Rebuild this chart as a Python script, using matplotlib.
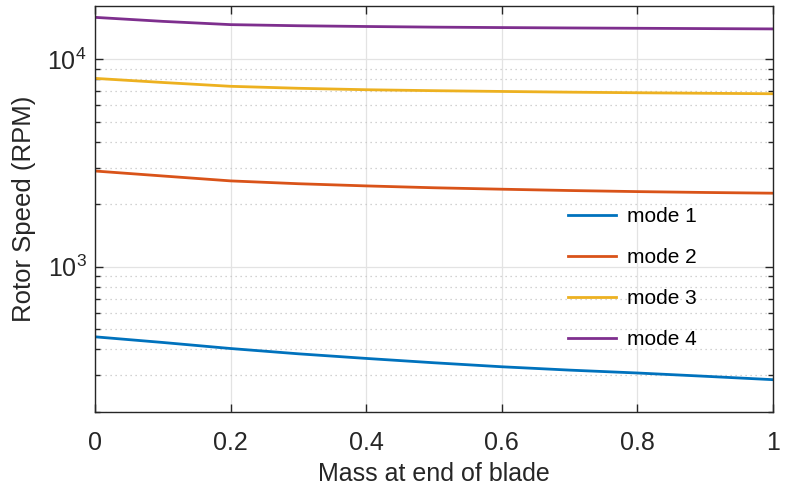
import matplotlib
matplotlib.use("Agg")
import matplotlib.pyplot as plt
from matplotlib.ticker import LogLocator, NullFormatter

plt.rcParams['font.family'] = ['Liberation Sans', 'DejaVu Sans']
plt.rcParams['mathtext.fontset'] = 'custom'
plt.rcParams['mathtext.rm'] = 'Liberation Sans'
plt.rcParams['mathtext.it'] = 'Liberation Sans:italic'

mass = [0.0, 0.1, 0.2, 0.3, 0.4, 0.5, 0.6, 0.7, 0.8, 0.9, 1.0]
mode1 = [460, 432, 404, 381, 362, 345, 330, 318, 308, 297, 286]
mode2 = [2890, 2735, 2590, 2510, 2450, 2400, 2362, 2328, 2300, 2278, 2260]
mode3 = [8070, 7710, 7390, 7230, 7115, 7040, 6980, 6925, 6880, 6840, 6805]
mode4 = [15870, 15180, 14640, 14460, 14340, 14240, 14170, 14110, 14060, 14010, 13960]
labels = ['mode 1', 'mode 2', 'mode 3', 'mode 4']
colors = ['#0072BD', '#D95319', '#EDB120', '#7E2F8E']
xticks = [0, 0.2, 0.4, 0.6, 0.8, 1]
xticklabels = ['0', '0.2', '0.4', '0.6', '0.8', '1']

fig = plt.figure(figsize=(7.85, 4.91), dpi=100)
ax = fig.add_axes([0.121, 0.161, 0.8637, 0.8268])

for y, lab, c in zip([mode1, mode2, mode3, mode4], labels, colors):
    ax.plot(mass, y, color=c, lw=2.0, label=lab)

ax.set_yscale('log')
ax.set_xlim(0, 1)
ax.set_ylim(200, 18000)
ax.set_xticks(xticks)
ax.set_xticklabels(xticklabels)
ax.yaxis.set_major_locator(LogLocator(base=10, numticks=10))
ax.yaxis.set_minor_locator(LogLocator(base=10, subs=range(2, 10), numticks=20))
ax.yaxis.set_minor_formatter(NullFormatter())

ax.grid(True, which='major', color='#e3e3e3', lw=0.9, ls='-')
ax.grid(True, which='minor', axis='y', color='#c4c4c4', lw=0.9, ls=(0, (1, 3)))
ax.set_axisbelow(True)

ax.tick_params(which='both', direction='in', top=True, right=True, colors='#262626',
               labelsize=18, width=1.0)
ax.tick_params(which='major', length=6)
ax.tick_params(which='minor', length=3.5)
ax.tick_params(axis='x', which='major', pad=14)
ax.tick_params(axis='y', which='major', pad=6)
for s in ax.spines.values():
    s.set_color('#262626')
    s.set_linewidth(1.0)

ax.set_xlabel('Mass at end of blade', fontsize=18, color='#262626', labelpad=5)
ax.set_ylabel('Rotor Speed (RPM)', fontsize=18.5, color='#262626', labelpad=8)

leg = ax.legend(loc='center left', bbox_to_anchor=(0.67, 0.33), frameon=False,
                labelspacing=1.05, handlelength=2.3, handletextpad=0.55,
                prop={'family': ['Liberation Sans', 'DejaVu Sans'], 'size': 15})

fig.savefig('out.png', dpi=100)
